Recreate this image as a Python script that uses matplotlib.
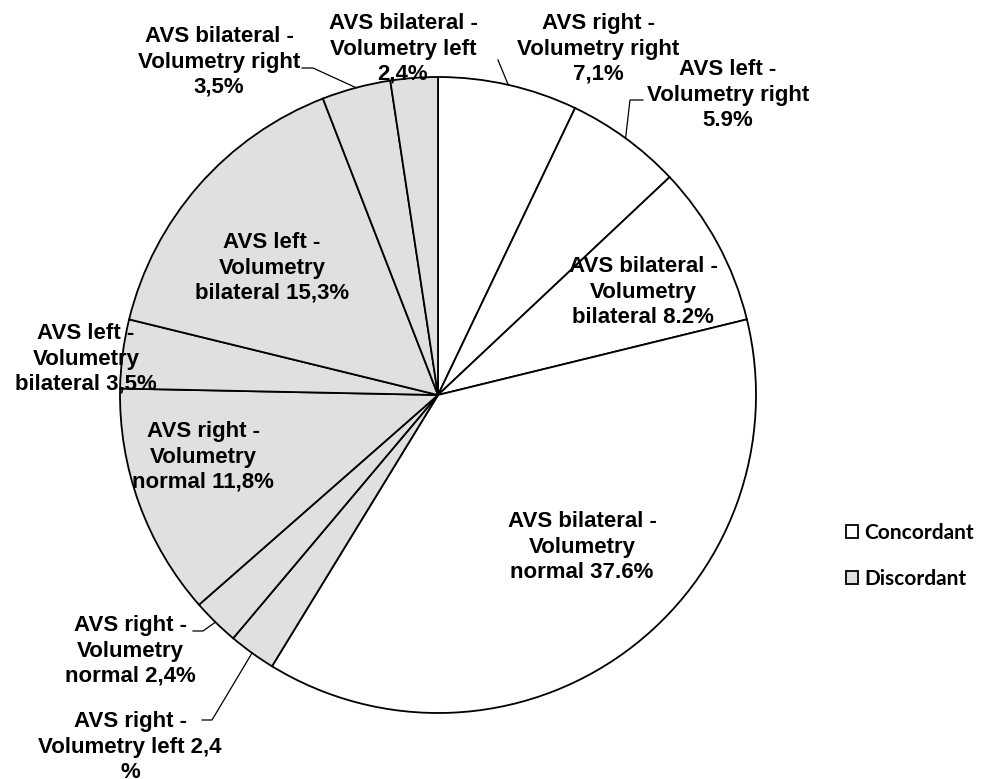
import matplotlib
matplotlib.use("Agg")
import matplotlib.pyplot as plt
import numpy as np

W, H = 988, 779

# ── Data ───────────────────────────────────────────────────────────────────
labels = [
    "AVS right -\nVolumetry right\n7,1%",
    "AVS left -\nVolumetry right\n5.9%",
    "AVS bilateral -\nVolumetry\nbilateral 8.2%",
    "AVS bilateral -\nVolumetry\nnormal 37.6%",
    "AVS right -\nVolumetry left 2,4\n%",
    "AVS right -\nVolumetry\nnormal 2,4%",
    "AVS right -\nVolumetry\nnormal 11,8%",
    "AVS left -\nVolumetry\nbilateral 3,5%",
    "AVS left -\nVolumetry\nbilateral 15,3%",
    "AVS bilateral -\nVolumetry right\n3,5%",
    "AVS bilateral -\nVolumetry left\n2,4%",
]
values = [7.1, 5.9, 8.2, 37.6, 2.4, 2.4, 11.8, 3.5, 15.3, 3.5, 2.4]
groups = ["Concordant"] * 4 + ["Discordant"] * 7
group_names = ["Concordant", "Discordant"]
group_colors = {"Concordant": "white", "Discordant": "#e0e0e0"}

# ── Layout (pixels from top-left) ─────────────────────────────────────────
CX, CY, R = 438, 395, 318
label_pos = [(598, 49), (728, 95), (643, 292), (582, 547), (130, 747),
             (130, 651), (203, 457), (86, 359), (272, 268), (219, 62),
             (403, 49)]
# leader line waypoints after the wedge edge point
leaders = {
    0: [(498, 60)],
    1: [(630, 100), (643, 100)],
    4: [(212, 720), (202, 720)],
    5: [(203, 631), (193, 631)],
    9: [(313, 68), (302, 68)],
}

FONT = "Liberation Sans"

fig = plt.figure(figsize=(W / 100, H / 100), dpi=100)
ax = fig.add_axes([0, 0, 1, 1])

wedges, _ = ax.pie(
    values,
    colors=[group_colors[g] for g in groups],
    startangle=90,
    counterclock=False,
    center=(CX, H - CY),
    radius=R,
    wedgeprops=dict(edgecolor="black", linewidth=1.3),
)
ax.set_xlim(0, W)
ax.set_ylim(0, H)
ax.set_aspect("equal")
ax.axis("off")

for txt, (x, y) in zip(labels, label_pos):
    ax.text(x, H - y, txt, ha="center", va="center", fontsize=16,
            fontweight="bold", family=FONT, linespacing=1.26)

for i, pts in leaders.items():
    w = wedges[i]
    mid = np.deg2rad((w.theta1 + w.theta2) / 2)
    ex, ey = w.center[0] + R * np.cos(mid), w.center[1] + R * np.sin(mid)
    xs = [ex] + [p[0] for p in pts]
    ys = [ey] + [H - p[1] for p in pts]
    ax.plot(xs, ys, color="black", linewidth=0.9)

handles = [wedges[groups.index(g)] for g in group_names]
ax.legend(handles, group_names, loc="upper left",
          bbox_to_anchor=(846 / W, 1 - 523 / H), frameon=False,
          borderpad=0, borderaxespad=0, handlelength=0.58, handleheight=0.58,
          handletextpad=0.3, labelspacing=1.25,
          prop=dict(family="Lato", weight="bold", size=15))

fig.savefig("out.png", dpi=100)
